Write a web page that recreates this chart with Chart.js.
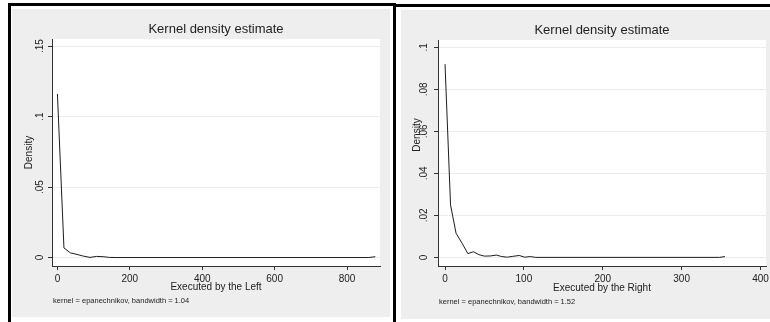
<!DOCTYPE html>
<html>
<head>
<meta charset="utf-8">
<script src="https://cdn.jsdelivr.net/npm/chart.js@4.4.1/dist/chart.umd.min.js"></script>
<style>
  html, body { margin: 0; padding: 0; background: #fff; }
  body { width: 770px; height: 322px; position: relative; overflow: hidden; }
  .bar { position: absolute; background: #000; }
  .panel { position: absolute; background: #eeeeee; }
  canvas { display: block; }
</style>
</head>
<body>
<div class="bar" style="left:8px;top:3px;width:388px;height:3px"></div>
<div class="bar" style="left:8px;top:3px;width:3px;height:319px"></div>
<div class="bar" style="left:393px;top:3px;width:3px;height:319px"></div>
<div class="bar" style="left:396px;top:4px;width:374px;height:3px"></div>
<div class="panel" style="left:12px;top:9px;width:378px;height:308px"><canvas id="left" width="378" height="308"></canvas></div>
<div class="panel" style="left:401px;top:10px;width:369px;height:309px"><canvas id="right" width="369" height="309"></canvas></div>
<script>
// left panel: executed by the Left
const leftX = [0, 18, 36, 54, 72, 90, 108, 126, 144, 162, 860, 878];
const leftY = [0.116, 0.0068, 0.0033, 0.0022, 0.0010, 0.0001, 0.0008, 0.0006, 0.0001, 0, 0, 0.0006];
const leftXTicks = [0, 200, 400, 600, 800];
const leftYTicks = [0, 0.05, 0.1, 0.15];
const leftYLabels = ['0', '.05', '.1', '.15'];

// right panel: executed by the Right
const rightX = [0, 7, 14, 22, 29, 36, 43, 50, 58, 65, 72, 79, 86, 94, 101, 108, 115, 348, 355];
const rightY = [0.092, 0.025, 0.0115, 0.0065, 0.0018, 0.0027, 0.0013, 0.0006, 0.0007, 0.0011, 0.0004, 0.0001, 0.0005, 0.0009, 0.0001, 0.0004, 0, 0, 0.0004];
const rightXTicks = [0, 100, 200, 300, 400];
const rightYTicks = [0, 0.02, 0.04, 0.06, 0.08, 0.1];
const rightYLabels = ['0', '.02', '.04', '.06', '.08', '.1'];

const FONT = '"Liberation Sans", Arial, sans-serif';
const INK = '#222';

//white plot region
const plotBg = {
  id: 'plotBg',
  beforeDraw(chart) {
    const a = chart.chartArea, ctx = chart.ctx;
    ctx.save();
    ctx.fillStyle = '#fff';
    ctx.fillRect(a.left, a.top, a.right - a.left, a.bottom - a.top);
    ctx.restore();
  }
};

//heading over the plot, the rotated y title and the kernel note
const labels = {
  id: 'labels',
  afterDraw(chart, args, opts) {
    const a = chart.chartArea, ctx = chart.ctx;
    ctx.save();
    ctx.fillStyle = INK;
    ctx.textBaseline = 'middle';
    ctx.textAlign = 'center';
    ctx.font = '13px ' + FONT;
    ctx.fillText(opts.heading, (a.left + a.right) / 2, a.top - opts.headingGap);

    ctx.save();
    ctx.translate(a.left - opts.yTitleGap, (a.top + a.bottom) / 2 + opts.yTitleShift);
    ctx.rotate(-Math.PI / 2);
    ctx.font = '10px ' + FONT;
    ctx.fillText(opts.yTitle, 0, 0);
    ctx.restore();

    ctx.textAlign = 'left';
    ctx.font = '7.5px ' + FONT;
    ctx.fillText(opts.note, a.left + 1, chart.scales.x.bottom + 6.5);
    ctx.restore();
  }
};

function kdensity(id, xs, ys, xTicks, yTicks, yLabels, xTitle, note, box) {
  const ctx = document.getElementById(id).getContext('2d');
  return new Chart(ctx, {
    type: 'line',
    data: {
      datasets: [{
        data: xs.map((x, i) => ({x: x, y: ys[i]})),
        borderColor: '#1e1e1e',
        borderWidth: 1,
        pointRadius: 0,
        tension: 0,
        fill: false
      }]
    },
    options: {
      animation: false,
      responsive: false,
      layout: {padding: {left: 0, top: box.padTop, right: box.padRight, bottom: box.padBottom}},
      plugins: {
        legend: {display: false},
        tooltip: {enabled: false},
        title: {display: false},
        labels: {
          heading: 'Kernel density estimate',
          headingGap: 9.7,
          yTitle: 'Density',
          yTitleGap: box.yTitleGap,
          yTitleShift: box.yTitleShift,
          note: note
        }
      },
      scales: {
        x: {
          type: 'linear',
          min: box.xMin,
          max: box.xMax,
          afterBuildTicks: s => { s.ticks = xTicks.map(v => ({value: v})); },
          afterFit: s => { s.height = box.xHeight; s.paddingLeft = 0; s.paddingRight = 0; },
          grid: {drawOnChartArea: false, tickLength: 4, tickColor: '#333'},
          border: {display: true, color: '#333', width: 1},
          ticks: {color: INK, font: {family: FONT, size: 10}, padding: 3, maxRotation: 0, autoSkip: false},
          title: {display: true, text: xTitle, color: INK, font: {family: FONT, size: 10}, padding: {top: 0, bottom: 1}}
        },
        y: {
          type: 'linear',
          min: box.yMin,
          max: box.yMax,
          afterBuildTicks: s => { s.ticks = yTicks.map(v => ({value: v})); },
          afterFit: s => { s.width = box.yWidth; s.paddingTop = 0; s.paddingBottom = 0; },
          grid: {color: '#ebebeb', tickLength: 4, tickColor: '#333'},
          border: {display: true, color: '#333', width: 1},
          ticks: {
            color: INK, font: {family: FONT, size: 10},
            minRotation: 90, maxRotation: 90, crossAlign: 'center',
            padding: box.yTickPad, autoSkip: false,
            callback: (v, i) => yLabels[i]
          },
          title: {display: false}
        }
      }
    },
    plugins: [plotBg, labels]
  });
}

kdensity('left', leftX, leftY, leftXTicks, leftYTicks, leftYLabels,
  'Executed by the Left', 'kernel = epanechnikov, bandwidth = 1.04',
  {xMin: -15, xMax: 891, yMin: -0.006, yMax: 0.155, padTop: 30, padRight: 10, padBottom: 23,
   xHeight: 28, yWidth: 40, yTickPad: 1, yTitleGap: 23, yTitleShift: 0});

kdensity('right', rightX, rightY, rightXTicks, rightYTicks, rightYLabels,
  'Executed by the Right', 'kernel = epanechnikov, bandwidth = 1.52',
  {xMin: -8.9, xMax: 407, yMin: -0.0041, yMax: 0.1035, padTop: 30, padRight: 4, padBottom: 24,
   xHeight: 29, yWidth: 37, yTickPad: 3, yTitleGap: 21, yTitleShift: -18});
</script>
</body>
</html>
